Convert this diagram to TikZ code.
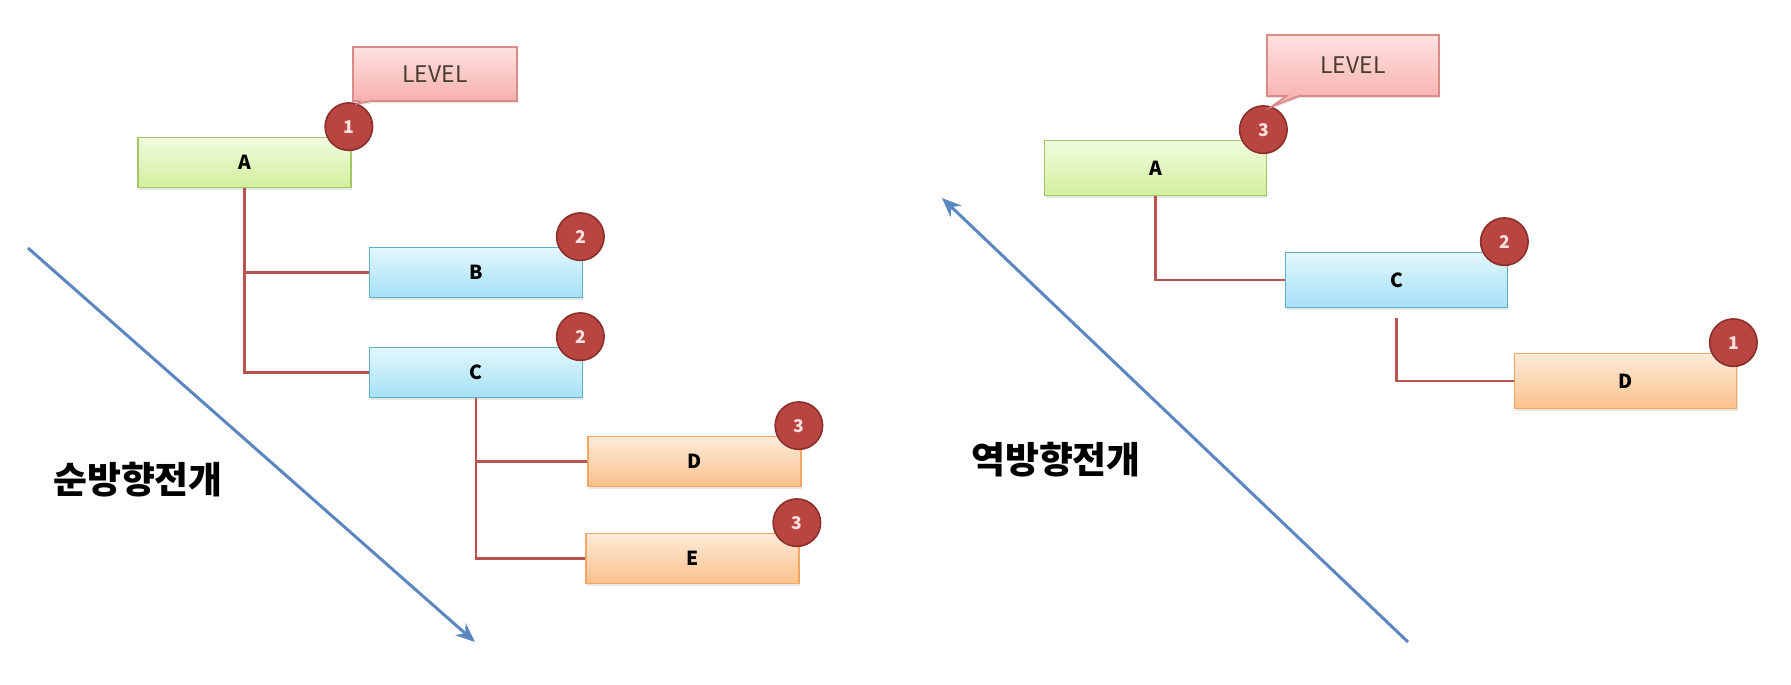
\documentclass[tikz,border=0pt]{standalone}
\usepackage{fontspec}
\setmainfont{Noto Sans CJK KR}
\usepackage{tikz}
\usetikzlibrary{arrows.meta, shapes.callouts, shadows}

\definecolor{grnline}{HTML}{A3C667}
\definecolor{grntop}{HTML}{F1FBDF}
\definecolor{grnbot}{HTML}{D2EF9C}
\definecolor{bluline}{HTML}{5EAECB}
\definecolor{blutop}{HTML}{E2F7FD}
\definecolor{blubot}{HTML}{A6E1F6}
\definecolor{orgline}{HTML}{F4A55F}
\definecolor{orgtop}{HTML}{FDEBD9}
\definecolor{orgbot}{HTML}{FBC18C}
\definecolor{lvlline}{HTML}{D98B88}
\definecolor{lvltop}{HTML}{FDE2E1}
\definecolor{lvlbot}{HTML}{F6ADAB}
\definecolor{lvltext}{HTML}{4A3C30}
\definecolor{badgefill}{HTML}{B8453F}
\definecolor{badgeline}{HTML}{8A2F2C}
\definecolor{linkred}{HTML}{B9534F}
\definecolor{flowblue}{HTML}{5B86C0}

\begin{document}
\begin{tikzpicture}[x=0.02cm, y=-0.02cm,
  box/.style={draw, line width=1pt, minimum width=4.26cm, minimum height=1cm,
    font=\bfseries\fontsize{11}{13}\selectfont,
    drop shadow={opacity=0.2, shadow xshift=0.02cm, shadow yshift=-0.04cm}},
  grnbox/.style={box, draw=grnline, top color=grntop, bottom color=grnbot},
  blubox/.style={box, draw=bluline, top color=blutop, bottom color=blubot},
  orgbox/.style={box, draw=orgline, top color=orgtop, bottom color=orgbot},
  badge/.style={circle, draw=badgeline, fill=badgefill, line width=0.9pt,
    minimum size=0.95cm, inner sep=0pt, text=white!88!red,
    font=\bfseries\fontsize{10}{12}\selectfont},
  lvl/.style={rectangle callout, draw=lvlline, line width=1pt,
    top color=lvltop, bottom color=lvlbot, text=lvltext,
    minimum width=3.28cm, minimum height=1.08cm,
    font=\fontsize{13}{15}\selectfont,
    drop shadow={opacity=0.2, shadow xshift=0.02cm, shadow yshift=-0.04cm}},
  link/.style={draw=linkred, line width=1.6pt},
  flow/.style={draw=flowblue, line width=1.7pt, -{Stealth[length=11pt, width=9pt]}},
  title/.style={font=\bfseries\fontsize{21}{25}\selectfont}]
\useasboundingbox (0,0) rectangle (1791,684);

\node[grnbox] (A1) at (244.5,162.5) {A};
\node[blubox] (B1) at (476,272.5) {B};
\node[blubox] (C1) at (476,372.5) {C};
\node[orgbox] (D1) at (694.5,461.5) {D};
\node[orgbox] (E1) at (692.5,558.5) {E};

\draw[link] (A1.south) |- (B1.west);
\draw[link] (A1.south) |- (C1.west);
\draw[link] (C1.south) |- (D1.west);
\draw[link] (C1.south) |- (E1.west);

\node[badge] (n1) at ([shift={(-3,-10)}]A1.north east) {1};
\node[badge] (n2) at ([shift={(-3,-10)}]B1.north east) {2};
\node[badge] (n3) at ([shift={(-3,-10)}]C1.north east) {2};
\node[badge] (n4) at ([shift={(-3,-10)}]D1.north east) {3};
\node[badge] (n5) at ([shift={(-3,-10)}]E1.north east) {3};

\node[lvl, callout absolute pointer={(n1.70)}] (lv1) at (435,74) {LEVEL};

\coordinate (s1) at (28,248);
\coordinate (t1) at (475,642);
\draw[flow] (s1) -- (t1);
\node[title] (fwd) at (138,480) {순방향전개};

\begin{scope}[box/.append style={minimum width=4.44cm, minimum height=1.1cm}]
\node[grnbox] (A2) at (1155.5,168) {A};
\node[blubox] (C2) at (1396.5,280) {C};
\node[orgbox] (D2) at (1625.5,381) {D};
\end{scope}

\draw[link] (A2.south) |- (C2.west);
\draw[link] ([yshift=-0.2cm]C2.south) |- (D2.west);

\node[badge] (n6) at ([shift={(-4,-10)}]A2.north east) {3};
\node[badge] (n7) at ([shift={(-4,-10)}]C2.north east) {2};
\node[badge] (n8) at ([shift={(-4,-10)}]D2.north east) {1};

\node[lvl, minimum width=3.44cm, minimum height=1.22cm,
  callout absolute pointer={(n6.70)}] (lv2) at (1353,65.5) {LEVEL};

\coordinate (s2) at (1408,642);
\coordinate (t2) at (942,198);
\draw[flow] (s2) -- (t2);
\node[title] (bwd) at (1056,460) {역방향전개};
\end{tikzpicture}
\end{document}
